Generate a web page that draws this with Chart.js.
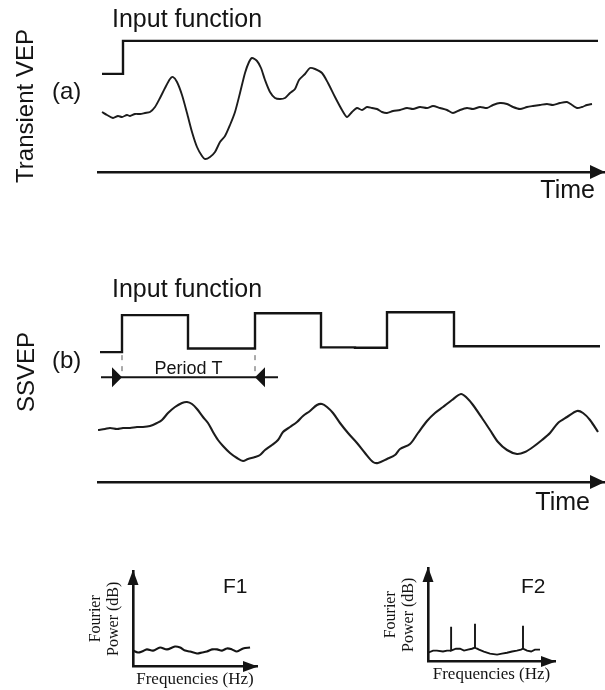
<!DOCTYPE html>
<html>
<head>
<meta charset="utf-8">
<script src="https://cdn.jsdelivr.net/npm/chart.js@4.4.1/dist/chart.umd.min.js"></script>
<style>
  html, body { margin: 0; padding: 0; background: #fff; }
  #page { position: relative; width: 605px; height: 690px; overflow: hidden; }
  .box { position: absolute; }
</style>
</head>
<body>
<div id="page">
  <div class="box" style="left:0;top:0;width:605px;height:200px"><canvas id="chartA"></canvas></div>
  <div class="box" style="left:0;top:260px;width:605px;height:270px"><canvas id="chartB"></canvas></div>
  <div class="box" style="left:80px;top:556px;width:195px;height:134px"><canvas id="chartF1"></canvas></div>
  <div class="box" style="left:375px;top:556px;width:200px;height:134px"><canvas id="chartF2"></canvas></div>
</div>
<script>
// (a) transient: step input and the evoked response (time in ms, amplitude in uV)
const stepTime = [0, 21, 496];
const stepLevel = [0, 1, 1];
const vepTime = [0,5,11,16,20,25,28,33,38,43,48,53,58,63,68,71,75,80,85,90,
  95,100,103,108,113,118,123,128,133,138,143,147,150,155,159,163,168,173,178,183,
  188,193,197,203,208,213,220,226,233,240,245,250,255,260,265,270,275,280,285,291,
  298,305,311,318,325,331,338,345,351,358,365,371,378,385,391,398,405,411,418,425,
  431,438,445,451,458,465,470,475,480,485,490];
const vepAmp = [0.0,-0.3,-0.6,-0.4,-0.5,-0.3,-0.4,-0.2,-0.2,-0.1,0.0,0.5,1.4,2.4,3.3,3.5,3.0,1.7,-0.1,-2.0,
  -3.5,-4.4,-4.7,-4.5,-4.0,-3.0,-2.4,-1.3,0.0,1.9,3.9,5.0,5.4,5.1,4.4,3.2,2.0,1.4,1.3,1.4,
  1.9,2.3,3.2,3.8,4.4,4.3,3.9,2.9,1.5,0.2,-0.5,0.0,0.4,0.2,0.5,0.4,0.3,0.0,-0.1,0.1,
  0.2,0.4,0.3,0.5,0.4,0.6,0.4,0.2,-0.1,0.2,0.4,0.3,0.5,0.4,0.7,0.9,0.8,0.5,0.3,0.5,
  0.6,0.7,0.8,0.7,0.9,1.0,0.7,0.4,0.5,0.7,0.8];

// (b) steady state: square wave input and SSVEP
const sqTime = [-2, 20, 86, 153, 219, 253, 285, 352, 498];
const sqLevel = [0, 1, 0.1, 1.05, 0.13, 0.12, 1.08, 0.16, 0.16];
const ssTime = [-4,3,8,15,21,28,35,41,48,55,60,66,73,80,85,90,95,101,106,111,
  116,121,128,135,141,146,153,158,163,170,176,181,188,195,201,208,215,220,225,231,
  238,246,255,263,271,276,285,293,298,308,316,325,333,341,350,359,365,371,380,388,
  396,405,415,423,431,440,448,456,465,475,481,488,496];
const ssAmp = [0.0,0.1,0.2,0.1,0.2,0.2,0.3,0.3,0.4,0.7,1.0,1.7,2.3,2.7,2.8,2.6,2.1,1.3,0.7,-0.2,
  -1.0,-1.6,-2.3,-2.8,-3.1,-2.9,-2.7,-2.5,-2.0,-1.5,-1.0,-0.2,0.3,0.8,1.4,1.9,2.5,2.6,2.3,1.7,
  0.7,-0.3,-1.3,-2.3,-3.2,-3.3,-2.9,-2.5,-1.9,-1.4,-0.3,0.9,1.7,2.3,3.0,3.6,3.2,2.5,1.2,0.0,
  -1.2,-2.0,-2.4,-2.2,-1.7,-1.0,-0.3,0.7,1.3,1.9,1.7,1.0,-0.2];

// spectra (Hz, dB)
const f1Hz = [0,2.0,3.6,5.6,8.1,10.9,13.7,16.9,19.0,21.0,23.0,25.8,27.8,29.8,31.9,33.9,35.9,37.9,39.9,41.9,44.4,47.2];
const f1Db = [6.7,5.9,6.3,7.2,6.7,8.0,7.2,8.4,8.0,6.7,6.3,5.5,5.9,6.3,7.2,7.2,6.7,7.6,7.2,6.3,7.6,8.0];
const f2Hz = [0,2.0,3.5,5.9,7.5,9.1,9.1,9.1,11.0,12.6,14.2,15.7,17.3,18.5,18.5,18.5,20.1,22.0,24.4,27.2,
  29.1,31.1,33.1,35.0,36.6,37.4,37.4,37.4,39.0,40.6,42.1,44.1];
const f2Db = [3.8,4.7,4.7,4.3,4.7,4.7,14.9,4.7,5.5,5.5,4.7,5.1,5.5,6.0,16.2,6.0,5.1,4.3,3.4,3.0,
  3.4,3.8,4.3,4.7,5.1,5.5,15.3,5.5,4.7,4.3,5.1,5.1];

const INK = "#141414";
const SANS = "'Liberation Sans', Arial, Helvetica, sans-serif";
const SERIF = "'Liberation Serif', 'Times New Roman', Times, serif";

function pts(xs, ys) {
  return xs.map((x, i) => ({ x: x, y: ys[i] }));
}

function arrow(ctx, x, y, dir, len, half) {
  ctx.beginPath();
  if (dir === "right") {
    ctx.moveTo(x, y); ctx.lineTo(x - len, y - half); ctx.lineTo(x - len, y + half);
  } else if (dir === "left") {
    ctx.moveTo(x, y); ctx.lineTo(x + len, y - half); ctx.lineTo(x + len, y + half);
  } else {
    ctx.moveTo(x, y); ctx.lineTo(x - half, y + len); ctx.lineTo(x + half, y + len);
  }
  ctx.closePath();
  ctx.fill();
}

function label(ctx, str, x, y, size, align, family) {
  ctx.font = size + "px " + (family || SANS);
  ctx.textAlign = align || "left";
  ctx.textBaseline = "alphabetic";
  ctx.fillText(str, x, y);
}

// rotated text, reads bottom to top; x is the baseline
function vlabel(ctx, str, x, yMid, size) {
  ctx.save();
  ctx.translate(x, yMid);
  ctx.rotate(-Math.PI / 2);
  label(ctx, str, 0, 0, size, "center");
  ctx.restore();
}

function timeAxis() {
  return {
    type: "linear", min: -4, max: 502,
    grid: { display: false, drawTicks: false },
    ticks: { display: false },
    border: { display: true, color: INK, width: 2.6 }
  };
}

function baseOptions(padding, scales) {
  return {
    responsive: true,
    maintainAspectRatio: false,
    animation: false,
    layout: { padding: padding },
    plugins: { legend: { display: false }, tooltip: { enabled: false } },
    scales: scales
  };
}

const decoA = {
  id: "decoA",
  afterDraw(chart) {
    const { ctx, chartArea: a } = chart;
    ctx.save();
    ctx.fillStyle = INK;
    arrow(ctx, a.right + 1, a.bottom, "right", 15, 7);
    label(ctx, "Input function", 112, 27, 25);
    label(ctx, "(a)", 52, 99, 24);
    label(ctx, "Time", 595, 198, 25, "right");
    vlabel(ctx, "Transient VEP", 33, 106, 24);
    ctx.restore();
  }
};

const decoB = {
  id: "decoB",
  afterDraw(chart) {
    const { ctx, chartArea: a } = chart;
    const x = chart.scales.x, yi = chart.scales.yIn;
    ctx.save();
    ctx.fillStyle = INK;
    ctx.strokeStyle = INK;
    arrow(ctx, a.right + 1, a.bottom, "right", 15, 7);
    label(ctx, "Input function", 112, 37, 25);
    label(ctx, "(b)", 52, 108, 24);
    label(ctx, "Time", 590, 250, 25, "right");
    vlabel(ctx, "SSVEP", 34, 112, 24);

    // period marker between the first two rising edges
    const p0 = x.getPixelForValue(sqTime[1]);
    const p1 = x.getPixelForValue(sqTime[3]);
    const yArr = yi.getPixelForValue(-0.68);
    ctx.lineWidth = 1;
    ctx.strokeStyle = "#555";
    ctx.setLineDash([5, 6]);
    [p0, p1].forEach(px => {
      ctx.beginPath();
      ctx.moveTo(px, yi.getPixelForValue(0) + 3);
      ctx.lineTo(px, yArr - 1);
      ctx.stroke();
    });
    ctx.setLineDash([]);
    ctx.strokeStyle = INK;
    ctx.lineWidth = 2;
    ctx.beginPath();
    ctx.moveTo(p0 - 21, yArr);
    ctx.lineTo(p1 + 23, yArr);
    ctx.stroke();
    arrow(ctx, p0, yArr, "right", 10, 10);
    arrow(ctx, p1, yArr, "left", 10, 10);
    label(ctx, "Period T", (p0 + p1) / 2, yArr - 3, 18, "center");
    ctx.restore();
  }
};

function decoF(name) {
  return {
    id: "decoF",
    afterDraw(chart) {
      const { ctx, chartArea: a } = chart;
      ctx.save();
      ctx.fillStyle = INK;
      arrow(ctx, a.left, a.top - 1, "up", 15, 5.5);
      arrow(ctx, a.right + 1, a.bottom, "right", 15, 5.5);
      label(ctx, name, a.right - 34, 37, 21);
      ctx.restore();
    }
  };
}

function spectrumScales() {
  const axisFont = { family: SERIF, size: 17, lineHeight: 1.2 };
  return {
    x: {
      type: "linear", min: 0, max: 50,
      grid: { display: false, drawTicks: false },
      ticks: { display: false },
      border: { display: true, color: INK, width: 2.6 },
      title: { display: true, text: "Frequencies (Hz)", color: INK, font: axisFont, padding: { top: 3, bottom: 0 } }
    },
    y: {
      type: "linear", min: 0, max: 40,
      grid: { display: false, drawTicks: false },
      ticks: { display: false },
      border: { display: true, color: INK, width: 2.6 },
      title: { display: true, text: ["Fourier", "Power (dB)"], color: INK,
        font: { family: SERIF, size: 16, lineHeight: 1.125 }, padding: { top: 0, bottom: 10 } }
    }
  };
}

new Chart(document.getElementById("chartA"), {
  type: "line",
  data: {
    datasets: [
      { label: "Input function", data: pts(stepTime, stepLevel), yAxisID: "yIn", stepped: "before",
        borderColor: INK, borderWidth: 2.4, pointRadius: 0, fill: false },
      { label: "Transient VEP", data: pts(vepTime, vepAmp), yAxisID: "yVep",
        borderColor: "#1c1c1c", borderWidth: 1.9, tension: 0.25, pointRadius: 0, fill: false }
    ]
  },
  options: baseOptions({ left: 98, right: 1, top: 30, bottom: 28 }, {
    x: timeAxis(),
    yIn: { display: false, min: -2.97, max: 1.33 },
    yVep: { display: false, min: -6, max: 8.2 }
  }),
  plugins: [decoA]
});

new Chart(document.getElementById("chartB"), {
  type: "line",
  data: {
    datasets: [
      { label: "Input function", data: pts(sqTime, sqLevel), yAxisID: "yIn", stepped: "before",
        borderColor: INK, borderWidth: 2.4, pointRadius: 0, fill: false },
      { label: "SSVEP", data: pts(ssTime, ssAmp), yAxisID: "ySs",
        borderColor: "#1c1c1c", borderWidth: 2.1, tension: 0.3, pointRadius: 0, fill: false }
    ]
  },
  options: baseOptions({ left: 98, right: 1, top: 30, bottom: 48 }, {
    x: timeAxis(),
    yIn: { display: false, min: -3.51, max: 1.68 },
    ySs: { display: false, min: -5.2, max: 14.0 }
  }),
  plugins: [decoB]
});

new Chart(document.getElementById("chartF1"), {
  type: "line",
  data: {
    datasets: [
      { label: "F1", data: pts(f1Hz, f1Db), borderColor: INK, borderWidth: 2.1,
        tension: 0.3, pointRadius: 0, fill: false }
    ]
  },
  options: baseOptions({ left: 7, right: 18, top: 15, bottom: 0 }, spectrumScales()),
  plugins: [decoF("F1")]
});

new Chart(document.getElementById("chartF2"), {
  type: "line",
  data: {
    datasets: [
      { label: "F2", data: pts(f2Hz, f2Db), borderColor: INK, borderWidth: 1.9,
        tension: 0, pointRadius: 0, fill: false }
    ]
  },
  options: baseOptions({ left: 7, right: 20, top: 12, bottom: 5 }, spectrumScales()),
  plugins: [decoF("F2")]
});
</script>
</body>
</html>
